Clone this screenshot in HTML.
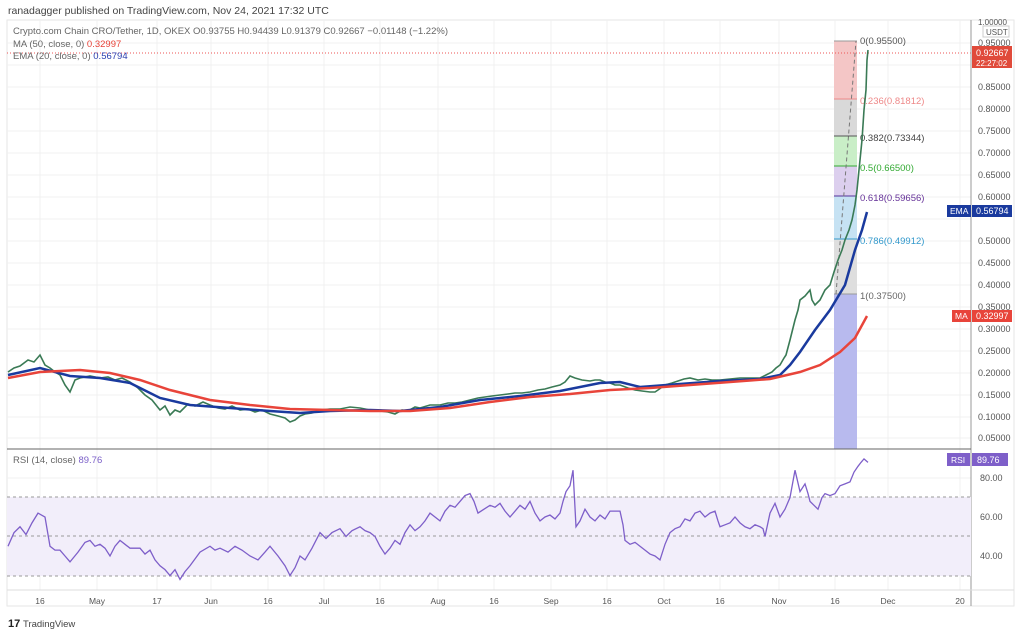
<!DOCTYPE html>
<html><head><meta charset="utf-8"><style>
body{margin:0;background:#fff;width:1024px;height:637px;overflow:hidden;font-family:"Liberation Sans",sans-serif}
svg text{font-family:"Liberation Sans",sans-serif}
</style></head><body>
<svg width="1024" height="637" viewBox="0 0 1024 637" xmlns="http://www.w3.org/2000/svg">
<rect width="1024" height="637" fill="#fff"/>
<text x="8" y="14" font-size="10.5" fill="#444">ranadagger published on TradingView.com, Nov 24, 2021 17:32 UTC</text>
<rect x="7" y="20" width="1007" height="586" fill="none" stroke="#e6e6e6"/>
<g stroke="#f0f0f0" stroke-width="1">
<line x1="40" y1="20" x2="40" y2="590"/><line x1="97" y1="20" x2="97" y2="590"/><line x1="157" y1="20" x2="157" y2="590"/><line x1="211" y1="20" x2="211" y2="590"/><line x1="268" y1="20" x2="268" y2="590"/><line x1="324" y1="20" x2="324" y2="590"/><line x1="380" y1="20" x2="380" y2="590"/><line x1="438" y1="20" x2="438" y2="590"/><line x1="494" y1="20" x2="494" y2="590"/><line x1="551" y1="20" x2="551" y2="590"/><line x1="607" y1="20" x2="607" y2="590"/><line x1="664" y1="20" x2="664" y2="590"/><line x1="720" y1="20" x2="720" y2="590"/><line x1="779" y1="20" x2="779" y2="590"/><line x1="835" y1="20" x2="835" y2="590"/><line x1="888" y1="20" x2="888" y2="590"/><line x1="960" y1="20" x2="960" y2="590"/>
<line x1="7" y1="43" x2="971" y2="43"/><line x1="7" y1="65" x2="971" y2="65"/><line x1="7" y1="87" x2="971" y2="87"/><line x1="7" y1="109" x2="971" y2="109"/><line x1="7" y1="131" x2="971" y2="131"/><line x1="7" y1="153" x2="971" y2="153"/><line x1="7" y1="175" x2="971" y2="175"/><line x1="7" y1="197" x2="971" y2="197"/><line x1="7" y1="219" x2="971" y2="219"/><line x1="7" y1="241" x2="971" y2="241"/><line x1="7" y1="263" x2="971" y2="263"/><line x1="7" y1="285" x2="971" y2="285"/><line x1="7" y1="307" x2="971" y2="307"/><line x1="7" y1="329" x2="971" y2="329"/><line x1="7" y1="351" x2="971" y2="351"/><line x1="7" y1="373" x2="971" y2="373"/><line x1="7" y1="395" x2="971" y2="395"/><line x1="7" y1="417" x2="971" y2="417"/><line x1="7" y1="438" x2="971" y2="438"/>
<line x1="7" y1="478" x2="971" y2="478"/><line x1="7" y1="517" x2="971" y2="517"/><line x1="7" y1="556" x2="971" y2="556"/>
</g>
<rect x="834" y="41" width="23" height="58" fill="#f4c6c6"/>
<rect x="834" y="99" width="23" height="37" fill="#d9d9d9"/>
<rect x="834" y="136" width="23" height="30" fill="#c9eec7"/>
<rect x="834" y="166" width="23" height="30" fill="#dccfee"/>
<rect x="834" y="196" width="23" height="43" fill="#c6e2f3"/>
<rect x="834" y="239" width="23" height="55" fill="#dedede"/>
<rect x="834" y="294" width="23" height="155" fill="#b8baee"/>
<g stroke-width="1">
<line x1="834" y1="41" x2="857" y2="41" stroke="#999"/>
<line x1="834" y1="99" x2="857" y2="99" stroke="#e88"/>
<line x1="834" y1="136" x2="857" y2="136" stroke="#555"/>
<line x1="834" y1="166" x2="857" y2="166" stroke="#3a3"/>
<line x1="834" y1="196" x2="857" y2="196" stroke="#539"/>
<line x1="834" y1="239" x2="857" y2="239" stroke="#39c"/>
<line x1="834" y1="294" x2="857" y2="294" stroke="#999"/>
</g>
<line x1="836" y1="294" x2="856" y2="41" stroke="#777" stroke-dasharray="4,3"/>
<g font-size="9.5">
<text x="860" y="44" fill="#555">0(0.95500)</text>
<text x="860" y="104" fill="#e88">0.236(0.81812)</text>
<text x="860" y="141" fill="#444">0.382(0.73344)</text>
<text x="860" y="171" fill="#3a3">0.5(0.66500)</text>
<text x="860" y="201" fill="#639">0.618(0.59656)</text>
<text x="860" y="244" fill="#39c">0.786(0.49912)</text>
<text x="860" y="299" fill="#666">1(0.37500)</text>
</g>
<line x1="7" y1="53" x2="971" y2="53" stroke="#e55" stroke-dasharray="1,2"/>
<polyline fill="none" stroke="#3a7a55" stroke-width="1.6" points="8,372 14,368 20,366 28,360 34,362 40,355 45,365 50,368 55,372 60,375 65,385 70,392 75,380 80,378 90,376 100,378 108,377 115,380 122,378 130,382 138,388 145,395 152,400 160,410 165,406 170,415 175,410 180,412 188,404 195,406 203,402 210,405 218,408 225,409 232,406 240,410 248,409 255,412 262,410 270,414 278,416 285,418 290,422 295,420 300,416 305,414 312,413 320,410 330,409 340,409 350,407 360,408 370,410 380,411 388,412 395,414 402,410 408,411 415,407 420,408 430,405 440,405 448,403 455,403 462,402 470,400 478,398 485,397 492,396 500,395 508,394 515,393 522,393 530,392 538,390 545,389 552,387 560,385 565,382 570,376 575,378 582,380 590,381 595,380 600,380 605,382 610,383 615,385 620,385 628,388 635,390 642,391 650,392 655,392 658,390 665,385 672,383 678,381 684,379 690,378 698,380 705,379 712,380 720,380 730,379 740,378 750,378 760,378 766,375 772,372 776,368 780,365 784,358 786,355 790,340 795,320 798,310 800,300 805,296 810,290 812,300 815,305 820,300 825,290 830,285 834,272 838,260 842,250 845,240 849,230 852,220 855,205 857,190 859,170 862,140 864,110 866,90 867,60 868,50"/>
<polyline fill="none" stroke="#1a3a9e" stroke-width="2.5" points="8,375 40,368 70,376 100,378 130,383 160,398 190,405 230,408 270,411 300,413 330,411 370,410 400,411 440,407 480,400 520,396 560,391 600,383 620,382 640,387 680,384 720,381 760,379 780,375 790,365 800,352 815,330 830,310 845,285 855,250 862,230 867,212"/>
<polyline fill="none" stroke="#e8443a" stroke-width="2.5" points="8,378 40,372 80,370 110,373 140,380 170,390 210,400 250,405 290,409 330,410 370,411 410,411 450,408 490,402 530,397 570,394 610,390 650,388 690,385 730,382 770,379 800,372 820,365 840,352 855,338 867,316"/>
<g font-size="9.5">
<text x="13" y="34" fill="#666">Crypto.com Chain CRO/Tether, 1D, OKEX  O0.93755  H0.94439  L0.91379  C0.92667  −0.01148 (−1.22%)</text>
<text x="13" y="47" fill="#666">MA (50, close, 0) <tspan fill="#e8443a">0.32997</tspan></text>
<text x="13" y="59" fill="#666">EMA (20, close, 0) <tspan fill="#2a3fb0">0.56794</tspan></text>
</g>
<line x1="971" y1="20" x2="971" y2="606" stroke="#999"/>
<line x1="7" y1="449" x2="971" y2="449" stroke="#666"/>
<line x1="7" y1="590" x2="1014" y2="590" stroke="#ddd"/>
<g font-size="9" fill="#555">
<text x="978" y="25" font-size="8">1.00000</text>
<rect x="983" y="26" width="26" height="11" fill="#fff" stroke="#ccc"/><text x="986" y="35" font-size="8">USDT</text>
<text x="978" y="46">0.95000</text><text x="978" y="90">0.85000</text><text x="978" y="112">0.80000</text><text x="978" y="134">0.75000</text><text x="978" y="156">0.70000</text><text x="978" y="178">0.65000</text><text x="978" y="200">0.60000</text><text x="978" y="244">0.50000</text><text x="978" y="266">0.45000</text><text x="978" y="288">0.40000</text><text x="978" y="310">0.35000</text><text x="978" y="332">0.30000</text><text x="978" y="354">0.25000</text><text x="978" y="376">0.20000</text><text x="978" y="398">0.15000</text><text x="978" y="420">0.10000</text><text x="978" y="441">0.05000</text>
<text x="980" y="481">80.00</text><text x="980" y="520">60.00</text><text x="980" y="559">40.00</text>
</g>
<rect x="972" y="46" width="40" height="22" fill="#e04a3a"/>
<text x="976" y="56" font-size="9" fill="#fff">0.92667</text><text x="976" y="66" font-size="8" fill="#fff">22:27:02</text>
<rect x="947" y="205" width="24" height="12" fill="#1a3a9e"/><text x="950" y="214" font-size="8.5" fill="#fff">EMA</text>
<rect x="972" y="205" width="40" height="12" fill="#1a3a9e"/><text x="976" y="214" font-size="9" fill="#fff">0.56794</text>
<rect x="952" y="310" width="19" height="12" fill="#e8443a"/><text x="955" y="319" font-size="8.5" fill="#fff">MA</text>
<rect x="972" y="310" width="40" height="12" fill="#e8443a"/><text x="976" y="319" font-size="9" fill="#fff">0.32997</text>
<rect x="7" y="497" width="964" height="79" fill="#f2eefa"/>
<g stroke="#999" stroke-dasharray="3,3"><line x1="7" y1="497" x2="971" y2="497"/><line x1="7" y1="536" x2="971" y2="536"/><line x1="7" y1="576" x2="971" y2="576"/></g>
<text x="13" y="463" font-size="9.5" fill="#666">RSI (14, close) <tspan fill="#7b5fc8">89.76</tspan></text>
<g transform="translate(0,634) scale(1,-1.95)">
<polyline fill="none" stroke="#7e5fc9" stroke-width="1.3" vector-effect="non-scaling-stroke" points="8,45 14,52 20,55 26,51 32,57 38,62 45,60 50,45 55,43 60,43 65,40 70,37 78,42 85,47 90,48 95,45 100,46 105,44 110,40 115,45 120,48 125,46 130,44 140,44 145,41 150,43 155,38 160,35 165,33 170,30 175,33 180,28 185,32 190,35 200,42 210,45 215,43 220,44 228,42 235,45 242,43 250,40 258,38 265,42 270,45 278,40 285,35 290,30 295,34 300,40 305,38 312,44 320,52 326,49 332,52 340,54 346,50 352,53 360,55 365,53 370,52 375,50 380,45 385,41 390,44 395,48 400,46 405,52 410,56 415,53 420,55 425,58 430,62 435,60 440,58 445,63 450,66 455,65 460,68 465,71 470,72 474,68 478,62 484,64 490,66 495,65 500,67 505,63 510,60 515,63 520,66 525,64 530,68 535,62 540,58 545,60 550,61 555,59 560,62 563,68 566,73 570,76 573,84 576,55 580,58 585,64 590,60 595,58 600,61 605,59 610,63 615,63 620,63 623,56 625,48 630,46 635,47 640,45 645,43 650,41 655,40 660,38 665,46 670,52 675,54 680,55 685,59 690,58 695,62 700,63 705,60 710,62 715,63 718,58 720,55 725,56 730,57 735,60 740,57 745,55 750,54 755,56 760,55 763,54 765,50 770,62 775,67 780,60 785,64 790,70 795,84 800,73 805,77 808,72 810,68 814,66 818,64 822,70 825,72 830,71 835,72 840,76 845,77 850,78 854,83 858,86 861,88 864,89.8 868,88"/>
</g>
<rect x="947" y="453" width="23" height="13" fill="#7e5fc9"/><text x="951" y="463" font-size="8.5" fill="#fff">RSI</text>
<rect x="972" y="453" width="36" height="13" fill="#7e5fc9"/><text x="977" y="463" font-size="9" fill="#fff">89.76</text>
<g font-size="8.5" fill="#555" text-anchor="middle">
<text x="40" y="604">16</text><text x="97" y="604">May</text><text x="157" y="604">17</text><text x="211" y="604">Jun</text><text x="268" y="604">16</text><text x="324" y="604">Jul</text><text x="380" y="604">16</text><text x="438" y="604">Aug</text><text x="494" y="604">16</text><text x="551" y="604">Sep</text><text x="607" y="604">16</text><text x="664" y="604">Oct</text><text x="720" y="604">16</text><text x="779" y="604">Nov</text><text x="835" y="604">16</text><text x="888" y="604">Dec</text><text x="960" y="604">20</text>
</g>
<text x="8" y="627" font-size="11" font-weight="bold" fill="#222">17</text>
<text x="23" y="627" font-size="9.5" fill="#444">TradingView</text>
</svg>
</body></html>
